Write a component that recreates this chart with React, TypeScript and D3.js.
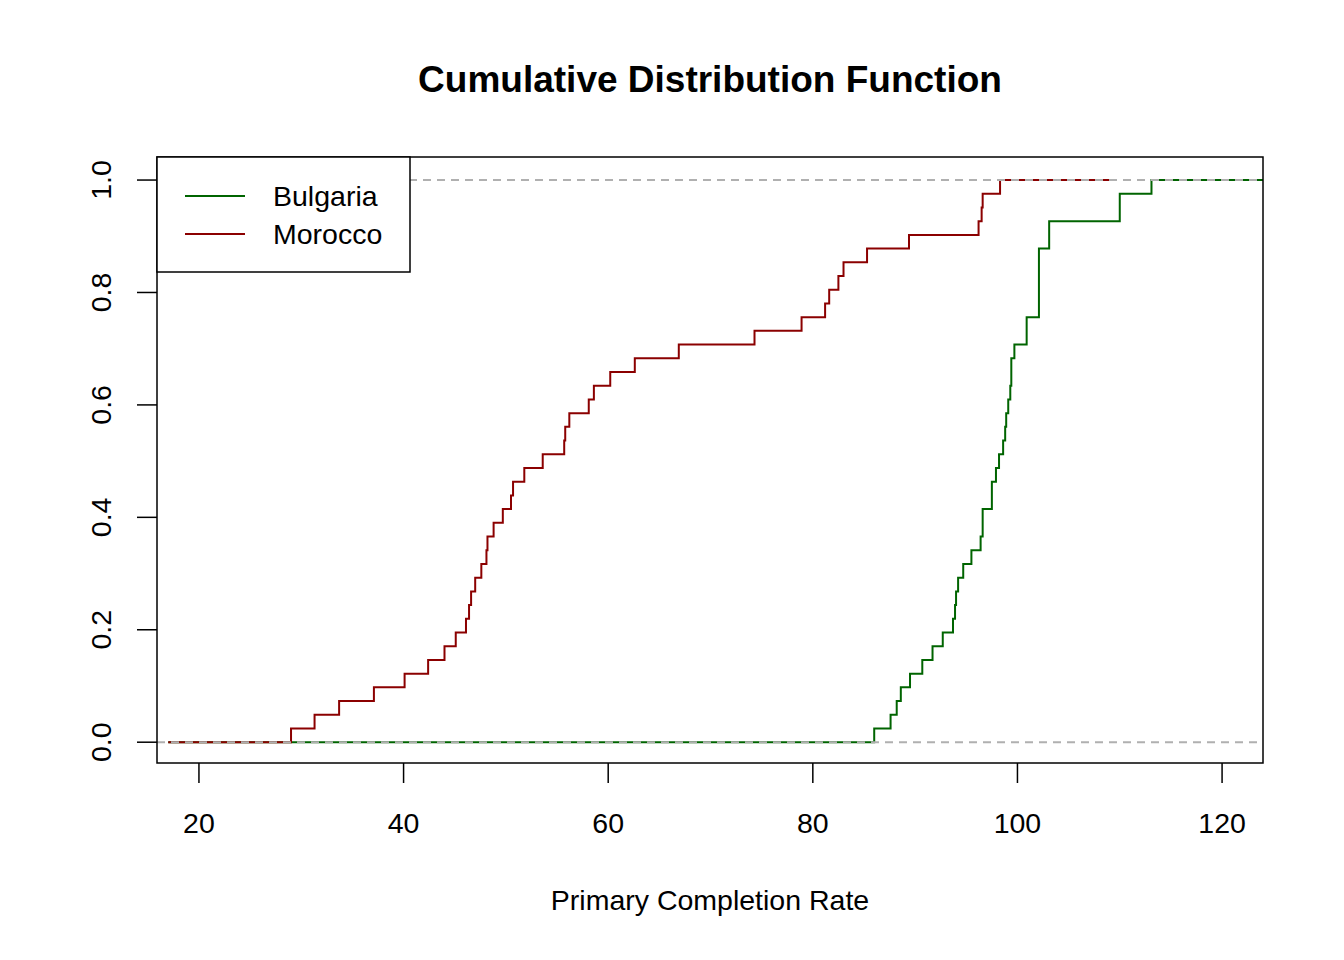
import React from "react";
import * as d3 from "d3";

const bulgaria = [86,87.6,88.2,88.6,89.5,90.7,91.7,92.7,93.7,93.9,94.0,94.2,94.7,95.5,96.4,96.6,96.6,97.5,97.5,97.9,98.2,98.6,98.8,98.9,99.1,99.3,99.4,99.4,99.7,100.9,100.9,102.1,102.1,102.1,102.1,102.1,103.1,103.1,110,110,113.1];
const morocco = [29,31.3,33.7,37.1,40.1,42.4,44,45.1,46.1,46.4,46.6,47,47.6,48.1,48.2,48.8,49.7,50.5,50.7,51.8,53.6,55.7,55.8,56.2,58.1,58.6,60.2,62.6,66.9,74.3,78.9,81.2,81.6,82.5,83,85.3,89.4,96.2,96.5,96.6,98.3];
const xTicks = [20,40,60,80,100,120];
const yTicks = [0,0.2,0.4,0.6,0.8,1.0];
const series = [
  { name: "Bulgaria", values: bulgaria, color: "#006400", end: 124 },
  { name: "Morocco", values: morocco, color: "#8B0000", end: 109 },
];

export default function App() {
  const L = 157, R = 1263, T = 157, B = 763;
  const x = d3.scaleLinear().domain([15.9, 124]).range([L, R]);
  const y = d3.scaleLinear().domain([-0.037, 1.041]).range([B, T]);
  const font = "Liberation Sans, Arial, sans-serif";
  const path = (vals: number[], end: number) => {
    const n = vals.length;
    const pts: [number, number][] = [[17, 0]];
    vals.forEach((v, i) => pts.push([v, (i + 1) / n]));
    pts.push([end, 1]);
    return d3.line<[number, number]>().x(d => x(d[0])).y(d => y(d[1])).curve(d3.curveStepAfter)(pts) || "";
  };
  return (
    <svg width={1344} height={960} style={{ display: "block", position: "absolute", left: 0, top: 0 }} fontFamily={font}>
      <rect width={1344} height={960} fill="white" />
      <text x={710} y={92} textAnchor="middle" fontSize={37} fontWeight="bold">Cumulative Distribution Function</text>
      <defs><clipPath id="c"><rect x={L} y={T} width={R - L} height={B - T} /></clipPath></defs>
      <g clipPath="url(#c)">
        {series.map(s => (
          <path key={s.name} d={path(s.values, s.end)} fill="none" stroke={s.color} strokeWidth={2} />
        ))}
      </g>
      {[0, 1].map(v => (
        <line key={v} x1={L} x2={R} y1={y(v)} y2={y(v)} stroke="#b0b0b0" strokeWidth={2} strokeDasharray="8,6" />
      ))}
      <rect x={L} y={T} width={R - L} height={B - T} fill="none" stroke="black" strokeWidth={1.5} />
      {xTicks.map(t => (
        <g key={t}>
          <line x1={x(t)} x2={x(t)} y1={B} y2={B + 20} stroke="black" strokeWidth={1.5} />
          <text x={x(t)} y={833} textAnchor="middle" fontSize={28.5}>{t}</text>
        </g>
      ))}
      {yTicks.map(t => (
        <g key={t}>
          <line x1={L - 20} x2={L} y1={y(t)} y2={y(t)} stroke="black" strokeWidth={1.5} />
          <text transform={`translate(111,${y(t)}) rotate(-90)`} textAnchor="middle" fontSize={28.5}>{t.toFixed(1)}</text>
        </g>
      ))}
      <text x={710} y={910} textAnchor="middle" fontSize={28.5}>Primary Completion Rate</text>
      <rect x={L} y={T} width={253} height={115} fill="white" stroke="black" strokeWidth={1.5} />
      {series.map((s, i) => (
        <g key={s.name}>
          <line x1={185} x2={245} y1={196 + i * 38} y2={196 + i * 38} stroke={s.color} strokeWidth={2} />
          <text x={273} y={206 + i * 38} fontSize={28.5}>{s.name}</text>
        </g>
      ))}
    </svg>
  );
}
